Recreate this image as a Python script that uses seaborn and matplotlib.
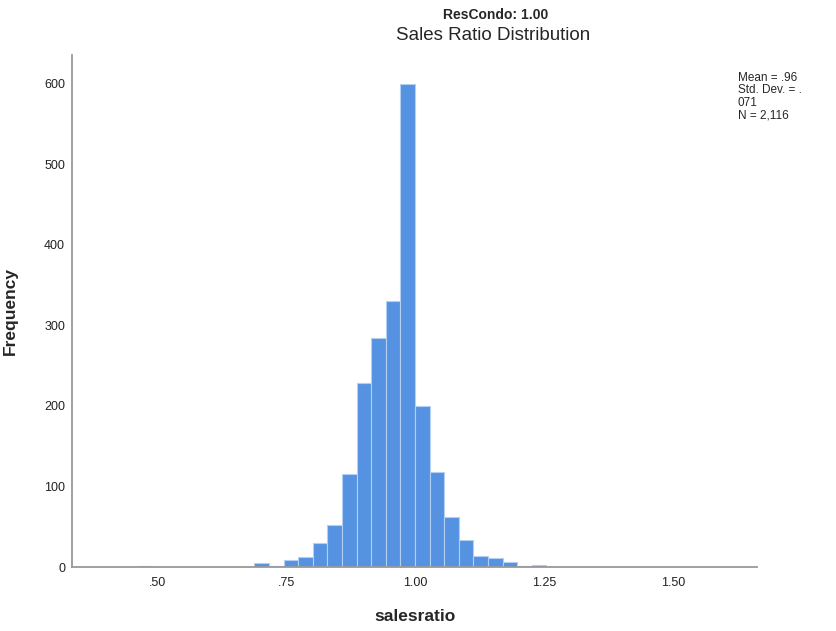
import numpy as np
import pandas as pd
import matplotlib
matplotlib.use("Agg")
import matplotlib.pyplot as plt
import seaborn as sns

# Histogram of sales ratio for ResCondo = 1.00
bin_start = 0.4623
bin_width = 0.0283
counts = [1, 0, 0, 0, 0, 0, 0, 0, 5, 1, 9, 13, 30, 52, 115, 229, 285, 330,
          600, 200, 118, 62, 33, 14, 11, 6, 1, 2]
x_ticks = [0.50, 0.75, 1.00, 1.25, 1.50]
x_tick_labels = [".50", ".75", "1.00", "1.25", "1.50"]
y_ticks = [0, 100, 200, 300, 400, 500, 600]
stats_lines = ["Mean = .96", "Std. Dev. = .", "071", "N = 2,116"]

edges = [bin_start + bin_width * i for i in range(len(counts) + 1)]
centers = [(a + b) / 2 for a, b in zip(edges[:-1], edges[1:])]
df = pd.DataFrame({"salesratio": centers, "freq": counts})

sns.set_style("white")
plt.rcParams["font.family"] = ["Liberation Sans", "DejaVu Sans"]

fig = plt.figure(figsize=(8.36, 6.31), dpi=100)
ax = fig.add_axes([72 / 836, (631 - 567) / 631, (757 - 72) / 836, (567 - 55) / 631])

sns.histplot(data=df, x="salesratio", weights="freq", bins=edges, stat="count",
             color="#5592E1", alpha=1.0, edgecolor="#B3CFF2", linewidth=0.8, ax=ax)

ax.set_xlim(0.335, 1.663)
ax.set_ylim(0, 636)
ax.set_xticks(x_ticks)
ax.set_xticklabels(x_tick_labels)
ax.set_yticks(y_ticks)
ax.tick_params(axis="both", length=0, labelsize=9, colors="#222222")
ax.tick_params(axis="y", pad=5)
ax.tick_params(axis="x", pad=7)

for side in ["top", "right"]:
    ax.spines[side].set_visible(False)
for side in ["left", "bottom"]:
    ax.spines[side].set_color("#999999")
    ax.spines[side].set_linewidth(1.3)

ax.set_xlabel("salesratio", fontsize=12.5, fontweight="bold")
ax.xaxis.set_label_coords(0.5, -(609 - 567) / 512)
ax.set_ylabel("Frequency", fontsize=12.5, fontweight="bold")
ax.yaxis.set_label_coords(-(72 - 18) / 685, (567 - 311) / 512)

fig.text(496 / 836, 1 - 15 / 631, "ResCondo: 1.00", ha="center", va="center",
         fontsize=10, fontweight="bold")
fig.text(493 / 836, 1 - 35 / 631, "Sales Ratio Distribution", ha="center", va="center",
         fontsize=13.5)

fig.text(738 / 836, 1 - 72 / 631, "\n".join(stats_lines), ha="left", va="top",
         fontsize=8.5, linespacing=1.05)

fig.savefig("out.png", dpi=100, facecolor="white")
